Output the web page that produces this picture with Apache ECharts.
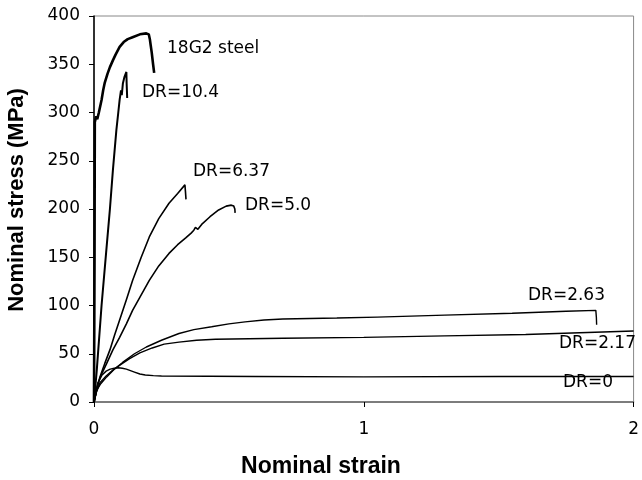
<!DOCTYPE html>
<html>
<head>
<meta charset="utf-8">
<script src="https://cdn.jsdelivr.net/npm/echarts@6/dist/echarts.min.js"></script>
<style>
html,body{margin:0;padding:0;background:#fff;}
#chart{width:642px;height:480px;}
</style>
</head>
<body>
<div id="chart"></div>
<script>
// Data: [nominal strain, nominal stress (MPa)]
var xTicks = [0, 1, 2];
var yTicks = [0, 50, 100, 150, 200, 250, 300, 350, 400];

var steel18G2 = [[0,0],[0.002,150],[0.003,290],[0.008,296],[0.012,293],[0.018,300],[0.024,298],[0.028,313],[0.034,323],[0.04,331],[0.05,340],[0.059,347],[0.07,354],[0.08,360],[0.095,368],[0.11,373],[0.125,376],[0.143,378],[0.17,381],[0.194,382],[0.203,381],[0.207,376],[0.21,370],[0.214,362],[0.219,350],[0.223,341]];
var dr104 = [[0,0],[0.01,32],[0.028,100],[0.045,155],[0.059,200],[0.07,240],[0.083,282],[0.09,300],[0.095,313],[0.1,323],[0.103,318],[0.107,330],[0.113,337],[0.12,342],[0.121,330],[0.123,315]];
var dr637 = [[0,0],[0.008,10],[0.022,26],[0.04,40],[0.059,54],[0.077,70],[0.095,85],[0.12,106],[0.143,126],[0.175,150],[0.205,171],[0.24,190],[0.278,206],[0.31,216],[0.337,225],[0.339,218],[0.341,210]];
var dr50 = [[0,0],[0.015,20],[0.03,30],[0.047,40],[0.07,54],[0.095,67],[0.12,81],[0.143,95],[0.175,111],[0.205,126],[0.24,141],[0.278,154],[0.31,163],[0.34,170],[0.36,175],[0.37,178],[0.376,181],[0.385,179],[0.399,184],[0.43,192],[0.462,199],[0.49,203],[0.509,204],[0.518,203],[0.522,200],[0.523,196]];
var dr263 = [[0,0],[0.01,12],[0.025,19],[0.047,26],[0.075,34],[0.106,41],[0.15,50],[0.194,57],[0.25,64],[0.315,71],[0.37,75],[0.436,78],[0.5,81],[0.56,83],[0.63,85],[0.7,86],[0.9,87],[1.05,88],[1.3,90],[1.55,92],[1.75,94],[1.86,95],[1.862,88],[1.863,80]];
var dr217 = [[0,0],[0.01,11],[0.022,20],[0.045,27],[0.07,33],[0.1,39],[0.132,45],[0.17,51],[0.216,56],[0.26,60],[0.315,62],[0.38,64],[0.45,65],[0.7,66],[1.0,67],[1.3,68.5],[1.6,70],[2.0,73.5]];
var dr0 = [[0,0],[0.005,10],[0.015,20],[0.03,28],[0.045,32],[0.06,34],[0.075,35],[0.09,35.5],[0.105,35],[0.12,34],[0.135,32.5],[0.15,31],[0.17,29],[0.19,28],[0.22,27.3],[0.25,27],[0.6,26.5],[1.0,26],[1.5,26.5],[2.0,26.5]];

var annotations = [
  {text:'18G2 steel', x:167, y:50},
  {text:'DR=10.4', x:142, y:94},
  {text:'DR=6.37', x:193, y:173},
  {text:'DR=5.0', x:245, y:207},
  {text:'DR=2.63', x:528, y:297},
  {text:'DR=2.17', x:559, y:345},
  {text:'DR=0', x:563, y:384}
];

var chart = echarts.init(document.getElementById('chart'));
function line(data, w){
  return {type:'line', data:data, showSymbol:false, symbol:'none', smooth:false,
    lineStyle:{color:'#000', width:w}, silent:true, animation:false, clip:true};
}
var graphics = annotations.map(function(a){
  return {type:'text', left:a.x, top:a.y-10, style:{text:a.text, font:'17px "DejaVu Sans"', fill:'#000'}};
});
graphics.push({type:'text', left:'center', top:455, style:{text:'Nominal strain', font:'bold 23px "Liberation Sans", Arial', fill:'#000', textAlign:'center'}, x:0});
graphics.push({type:'text', rotation:Math.PI/2, x:17, y:200, style:{text:'Nominal stress (MPa)', font:'bold 22px "Liberation Sans", Arial', fill:'#000', textAlign:'center', textVerticalAlign:'middle'}});

chart.setOption({
  animation:false,
  backgroundColor:'#fff',
  grid:{left:94, right:2, top:16, bottom:78, show:true, borderColor:'#888', borderWidth:1},
  xAxis:{type:'value', min:xTicks[0], max:xTicks[xTicks.length-1], interval:1,
    axisLine:{show:true, lineStyle:{color:'#666', width:1.5}},
    axisTick:{show:true, length:5, lineStyle:{color:'#000'}},
    axisLabel:{color:'#000', fontSize:17, fontFamily:'DejaVu Sans', margin:19},
    splitLine:{show:false}},
  yAxis:{type:'value', min:yTicks[0], max:yTicks[yTicks.length-1], interval:50,
    axisLine:{show:true, lineStyle:{color:'#000', width:1.5}},
    axisTick:{show:true, length:5, lineStyle:{color:'#000'}},
    axisLabel:{color:'#000', fontSize:17, fontFamily:'DejaVu Sans', margin:14},
    splitLine:{show:false}},
  graphic:graphics,
  series:[
    line(steel18G2, 2.6),
    line(dr104, 2),
    line(dr637, 1.6),
    line(dr50, 1.6),
    line(dr263, 1.4),
    line(dr217, 1.4),
    line(dr0, 1.4)
  ]
});
</script>
</body>
</html>
